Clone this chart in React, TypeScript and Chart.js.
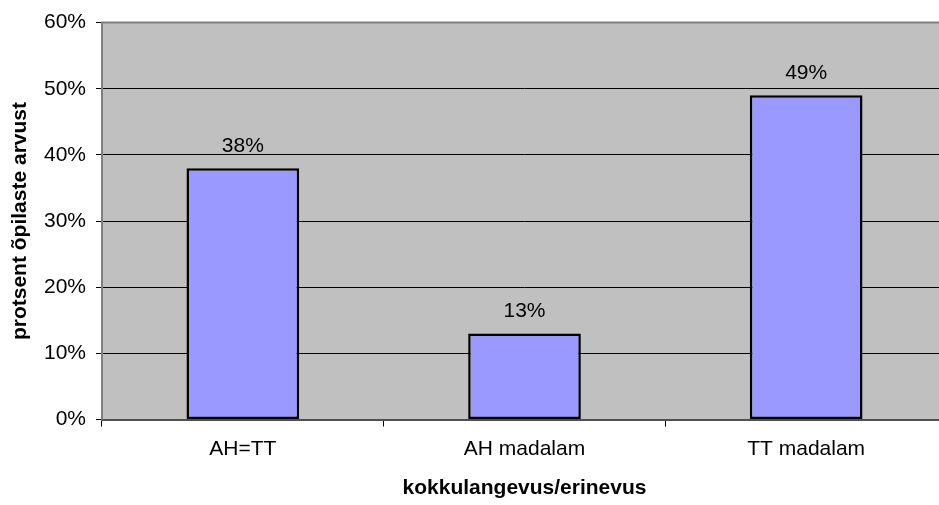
import React, { useEffect, useRef } from 'react';
import { Chart, registerables } from 'chart.js';

Chart.register(...registerables);

const categories = ['AH=TT', 'AH madalam', 'TT madalam'];
const values = [38, 13, 49];
const yMin = 0;
const yMax = 60;
const yStep = 10;
const xTitle = 'kokkulangevus/erinevus';
const yTitle = 'protsent õpilaste arvust';

const FONT = '"Liberation Sans", Arial, Helvetica, sans-serif';

export default function App() {
  const ref = useRef<HTMLCanvasElement | null>(null);

  useEffect(() => {
    if (!ref.current) return;

    const plotPlugin = {
      id: 'plotArea',
      beforeDraw(chart: any) {
        const { ctx, chartArea: a } = chart;
        ctx.save();
        ctx.fillStyle = '#C0C0C0';
        ctx.fillRect(a.left, a.top, a.right - a.left, a.bottom - a.top);
        ctx.restore();
      },
      beforeDatasetsDraw(chart: any) {
        const { ctx, chartArea: a } = chart;
        ctx.save();
        ctx.strokeStyle = '#808080';
        ctx.lineWidth = 2;
        ctx.beginPath();
        ctx.moveTo(a.left, a.bottom);
        ctx.lineTo(a.left, a.top);
        ctx.lineTo(a.right, a.top);
        ctx.stroke();
        ctx.restore();
      },
    };

    const valuePlugin = {
      id: 'valueLabels',
      afterDatasetsDraw(chart: any) {
        const { ctx } = chart;
        const meta = chart.getDatasetMeta(0);
        ctx.save();
        ctx.font = `21px ${FONT}`;
        ctx.fillStyle = '#000';
        ctx.textAlign = 'center';
        ctx.textBaseline = 'alphabetic';
        meta.data.forEach((bar: any, i: number) => {
          ctx.fillText(values[i] + '%', bar.x, bar.y - 16.5);
        });
        ctx.restore();
      },
    };

    const chart = new Chart(ref.current, {
      type: 'bar',
      data: {
        labels: categories,
        datasets: [
          {
            data: values,
            backgroundColor: '#9999FF',
            borderColor: '#000000',
            borderWidth: 2.5,
            borderSkipped: false,
            barPercentage: 0.4,
            categoryPercentage: 1,
          },
        ],
      },
      options: {
        animation: false,
        responsive: false,
        devicePixelRatio: 1,
        layout: { padding: { left: 0, right: 0, top: 19.5, bottom: 0 } },
        plugins: {
          legend: { display: false },
          tooltip: { enabled: false },
        },
        scales: {
          x: {
            afterFit(scale: any) {
              scale.height = 85.5;
            },
            grid: {
              display: true,
              drawOnChartArea: false,
              drawTicks: true,
              tickLength: 7,
              color: '#000',
              offset: true,
            },
            border: { display: true, color: '#505050', width: 2 },
            ticks: {
              color: '#000',
              padding: 10,
              font: { family: FONT, size: 21 },
              maxRotation: 0,
            },
            title: {
              display: true,
              text: xTitle,
              color: '#000',
              font: { family: FONT, size: 21, weight: 'bold' },
              padding: { top: 4, bottom: 4 },
            },
          },
          y: {
            min: yMin,
            max: yMax,
            afterFit(scale: any) {
              scale.width = 102;
            },
            grid: {
              color: '#000',
              lineWidth: 1,
              drawTicks: true,
              tickLength: 6,
            },
            border: { display: false },
            ticks: {
              stepSize: yStep,
              color: '#000',
              padding: 10,
              font: { family: FONT, size: 21 },
              callback: (v: any) => v + '%',
            },
            title: {
              display: true,
              text: yTitle,
              color: '#000',
              font: { family: FONT, size: 21, weight: 'bold' },
              padding: { top: 8, bottom: 0 },
            },
          },
        },
      },
      plugins: [plotPlugin, valuePlugin],
    });

    return () => chart.destroy();
  }, []);

  return (
    <div
      style={{
        position: 'absolute',
        left: 0,
        top: 0,
        width: 939,
        height: 505,
        overflow: 'hidden',
        background: '#fff',
      }}
    >
      <canvas ref={ref} width={947} height={505} style={{ display: 'block' }} />
    </div>
  );
}
